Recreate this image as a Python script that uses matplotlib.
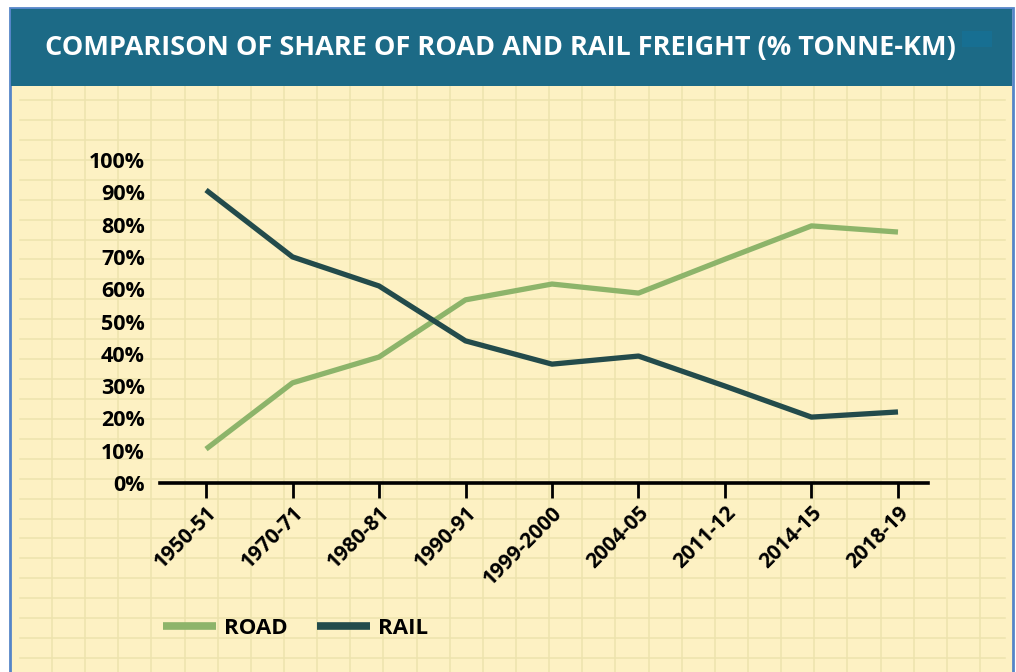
import matplotlib.pyplot as plt
from matplotlib.lines import Line2D
from matplotlib.patches import Rectangle

# data (share of freight, % tonne-km)
periods = ['1950-51', '1970-71', '1980-81', '1990-91', '1999-2000',
           '2004-05', '2011-12', '2014-15', '2018-19']
road = [10.5, 31, 39, 56.7, 61.6, 58.8, 69.3, 79.6, 77.7]
rail = [90.7, 70, 61, 44, 36.8, 39.3, 30, 20.4, 22]
y_ticks = [0, 10, 20, 30, 40, 50, 60, 70, 80, 90, 100]

ROAD_C = '#8db46a'
RAIL_C = '#234b4b'
PAPER = '#fdf1c3'
GRID = '#ede3ae'
HEADER = '#1c6a86'
BORDER = '#5585c8'

W, H = 1016, 672
fig = plt.figure(figsize=(W / 100, H / 100), dpi=100)
fig.patch.set_facecolor('white')

# background layer in pixel coordinates
bg = fig.add_axes([0, 0, 1, 1])
bg.set_xlim(0, W)
bg.set_ylim(H, 0)
bg.axis('off')
bg.add_patch(Rectangle((10, 8), 1003, H, facecolor=PAPER, edgecolor=BORDER, lw=2))
for k in range(29):
    y = 100 + 19.93 * k
    bg.plot([20, 1005], [y, y], color=GRID, lw=1.1, zorder=1)
for k in range(29):
    x = 52 + 33.14 * k
    bg.plot([x, x], [86, H], color=GRID, lw=1.1, zorder=1)
bg.add_patch(Rectangle((11, 9), 1001, 77, facecolor=HEADER, edgecolor='none', zorder=2))
bg.add_patch(Rectangle((962, 31), 30, 16, facecolor='#176f92', edgecolor='none', zorder=3))
title = bg.text(45, 48, 'COMPARISON OF SHARE OF ROAD AND RAIL FREIGHT (% TONNE-KM)',
                color='white', fontsize=20, fontweight='bold', family='Open Sans',
                va='center', ha='left', zorder=4)
# squeeze title to the reference width
r = fig.canvas.get_renderer()
tw = title.get_window_extent(r).width
title.set_fontsize(20 * 910 / tw)

# main chart axes: x=160..928 px, y 483 (0%) .. 160 (100%)
ax = fig.add_axes([160 / W, 1 - 483 / H, (928 - 160) / W, (483 - 160) / H])
ax.patch.set_alpha(0)
x = list(range(len(periods)))
ax.plot(x, road, color=ROAD_C, lw=3.8, solid_capstyle='butt', clip_on=False)
ax.plot(x, rail, color=RAIL_C, lw=3.8, solid_capstyle='butt', clip_on=False)
ax.set_xlim(-0.532, 8.347)
ax.set_ylim(0, 100)

for s in ['top', 'right', 'left']:
    ax.spines[s].set_visible(False)
ax.spines['bottom'].set_linewidth(2.6)
ax.spines['bottom'].set_color('black')

ax.set_xticks(x)
ax.set_xticklabels(periods, rotation=45, ha='right', rotation_mode='anchor',
                   fontsize=15, fontweight='bold', family='Open Sans')
ax.tick_params(axis='x', direction='out', length=11, width=2, pad=3, color='black')
ax.set_yticks(y_ticks)
ax.set_yticklabels([f'{v}%' for v in y_ticks], fontsize=15.5, fontweight='bold',
                   family='Open Sans')
ax.tick_params(axis='y', length=0, pad=11)

handles = [Line2D([], [], color=ROAD_C, lw=5.5, solid_capstyle='butt'),
           Line2D([], [], color=RAIL_C, lw=5.5, solid_capstyle='butt')]
fig.legend(handles, ['ROAD', 'RAIL'], loc='center left',
           bbox_to_anchor=(143 / W, 1 - 628 / H), ncol=2, frameon=False,
           handlelength=2.4, handletextpad=0.35, columnspacing=1.3,
           prop={'family': 'Open Sans', 'weight': 'bold', 'size': 16})

fig.savefig('out.png', dpi=100, facecolor='white')
